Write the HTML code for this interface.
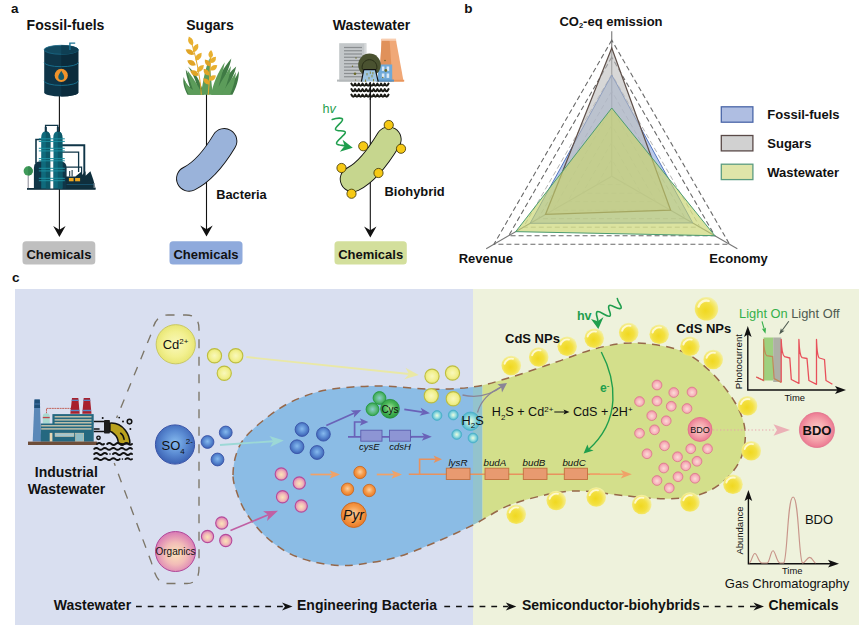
<!DOCTYPE html>
<html><head><meta charset="utf-8"><title>Figure</title>
<style>
html,body{margin:0;padding:0;background:#fff;}
body{width:865px;height:628px;overflow:hidden;font-family:"Liberation Sans",sans-serif;}
svg{display:block;font-family:"Liberation Sans",sans-serif;}
</style></head><body>
<svg width="865" height="628" viewBox="0 0 865 628">
<defs>
<radialGradient id="gYellow" cx="50%" cy="50%" r="50%"><stop offset="0" stop-color="#f9f8bc"/><stop offset="0.65" stop-color="#f2f090"/><stop offset="1" stop-color="#e8e674"/></radialGradient>
<radialGradient id="gBlue" cx="50%" cy="45%" r="55%"><stop offset="0" stop-color="#86baee"/><stop offset="0.55" stop-color="#5a8ad2"/><stop offset="1" stop-color="#3a60b2"/></radialGradient>
<radialGradient id="gPink" cx="50%" cy="55%" r="55%"><stop offset="0" stop-color="#fbe4b8"/><stop offset="0.5" stop-color="#f2bcb8"/><stop offset="1" stop-color="#d878b4"/></radialGradient>
<radialGradient id="gGreen" cx="50%" cy="45%" r="55%"><stop offset="0" stop-color="#a2e49a"/><stop offset="0.55" stop-color="#48b456"/><stop offset="1" stop-color="#2a9a40"/></radialGradient>
<radialGradient id="gCyan" cx="50%" cy="50%" r="50%"><stop offset="0" stop-color="#eefadc"/><stop offset="0.5" stop-color="#9ce0e0"/><stop offset="1" stop-color="#4ab2cc"/></radialGradient>
<radialGradient id="gOrange" cx="50%" cy="45%" r="55%"><stop offset="0" stop-color="#fcd0a0"/><stop offset="0.55" stop-color="#f59a48"/><stop offset="1" stop-color="#ea7a26"/></radialGradient>
<radialGradient id="gGold" cx="46%" cy="58%" r="56%"><stop offset="0" stop-color="#f0d820"/><stop offset="0.55" stop-color="#f3e040"/><stop offset="0.85" stop-color="#f4ea7c"/><stop offset="1" stop-color="#f3efa2"/></radialGradient>
<radialGradient id="gBDO" cx="50%" cy="50%" r="50%"><stop offset="0" stop-color="#fbcfca"/><stop offset="0.6" stop-color="#f4a2aa"/><stop offset="1" stop-color="#ec7a92"/></radialGradient>
<radialGradient id="gPinkS" cx="50%" cy="55%" r="50%"><stop offset="0" stop-color="#fcdcd8"/><stop offset="0.65" stop-color="#f7b4bc"/><stop offset="1" stop-color="#f096a8"/></radialGradient>
<radialGradient id="gGreenS" cx="50%" cy="50%" r="52%"><stop offset="0" stop-color="#8accd0"/><stop offset="0.55" stop-color="#5fbc80"/><stop offset="1" stop-color="#2fa448"/></radialGradient>
</defs>
<text x="11" y="12.5" font-size="13.5" font-weight="bold" fill="#111" text-anchor="start" style="" >a</text>
<text x="65.5" y="29.5" font-size="14" font-weight="bold" fill="#111" text-anchor="middle" style="" >Fossil-fuels</text>
<text x="210" y="29.5" font-size="14" font-weight="bold" fill="#111" text-anchor="middle" style="" >Sugars</text>
<text x="371.5" y="29.5" font-size="14" font-weight="bold" fill="#111" text-anchor="middle" style="" >Wastewater</text>
<line x1="59.4" y1="96" x2="59.4" y2="233" stroke="#111" stroke-width="1.1"/>
<path d="M59.4,237 L53.199999999999996,226 L59.4,229.8 L65.6,226 Z" fill="#111"/>
<line x1="206.5" y1="94" x2="206.5" y2="232.5" stroke="#111" stroke-width="1.1"/>
<path d="M206.5,236.5 L200.3,225.5 L206.5,229.3 L212.7,225.5 Z" fill="#111"/>
<line x1="370.3" y1="84" x2="370.3" y2="233.5" stroke="#111" stroke-width="1.1"/>
<path d="M370.3,237.5 L364.1,226.5 L370.3,230.3 L376.5,226.5 Z" fill="#111"/>
<rect x="22.5" y="241.2" width="72.8" height="23.3" rx="3.5" fill="#bfbfbf"/>
<text x="58.9" y="259" font-size="13" font-weight="bold" fill="#111" text-anchor="middle" style="" >Chemicals</text>
<rect x="169.5" y="241.2" width="73.0" height="23.3" rx="3.5" fill="#8faadc"/>
<text x="206.0" y="259" font-size="13" font-weight="bold" fill="#111" text-anchor="middle" style="" >Chemicals</text>
<rect x="334.5" y="241.2" width="72.30000000000001" height="23.3" rx="3.5" fill="#d3df9c"/>
<text x="370.65" y="259" font-size="13" font-weight="bold" fill="#111" text-anchor="middle" style="" >Chemicals</text>
<path d="M189.1,178.7 C202.3,172.1 215.3,156.1 224.3,141.1" fill="none" stroke="#111" stroke-width="26" stroke-linecap="round"/>
<path d="M189.1,178.7 C202.3,172.1 215.3,156.1 224.3,141.1" fill="none" stroke="#9ab3da" stroke-width="24.2" stroke-linecap="round"/>
<text x="216.2" y="198.5" font-size="12.8" font-weight="bold" fill="#111" text-anchor="start" style="" >Bacteria</text>
<path d="M352.8,179.2 C366.0,172.6 379.6,154.5 388.6,139.5" fill="none" stroke="#111" stroke-width="26" stroke-linecap="round"/>
<path d="M352.8,179.2 C366.0,172.6 379.6,154.5 388.6,139.5" fill="none" stroke="#c6d68e" stroke-width="24.2" stroke-linecap="round"/>
<circle cx="388.75" cy="125" r="4.6" fill="#f6c915" stroke="#3a3000" stroke-width="0.8"/>
<circle cx="363.25" cy="146.25" r="4.6" fill="#f6c915" stroke="#3a3000" stroke-width="0.8"/>
<circle cx="401" cy="148.75" r="4.6" fill="#f6c915" stroke="#3a3000" stroke-width="0.8"/>
<circle cx="341.5" cy="168" r="4.6" fill="#f6c915" stroke="#3a3000" stroke-width="0.8"/>
<circle cx="378.5" cy="173" r="4.6" fill="#f6c915" stroke="#3a3000" stroke-width="0.8"/>
<circle cx="351.5" cy="193.75" r="4.6" fill="#f6c915" stroke="#3a3000" stroke-width="0.8"/>
<text x="384.5" y="195.8" font-size="12.9" font-weight="bold" fill="#111" text-anchor="start" style="" >Biohybrid</text>
<text x="322.6" y="112.5" font-size="12.6" fill="#1f9e4d">h<tspan font-style="italic">v</tspan></text>
<path d="M332.2,119.5 C336,118.2 343.6,117 342.4,120.2 C341,123.6 334.4,127.2 335.6,129.6 C336.8,131.8 346.2,129.6 345.3,132.8 C344.2,136 335.4,141.2 336.6,143.6 C337.6,145.4 342,145.2 345,145.8" fill="none" stroke="#1f9e4d" stroke-width="1.6" stroke-linecap="round"/>
<path d="M352.8,147.7 L342.6,139.7 L344.6,146 L339.8,151.7 Z" fill="#1f9e4d"/>
<g>
<path d="M44.2,49.8 L44.2,92.2 A17.05,4.4 0 0 0 78.3,92.2 L78.3,49.8 Z" fill="#0e3548"/>
<path d="M61.25,49.8 L61.25,96.6 A17.05,4.4 0 0 0 78.3,92.2 L78.3,49.8 Z" fill="#0b2b3c"/>
<ellipse cx="61.25" cy="49.8" rx="17.05" ry="4.5" fill="#134a60" stroke="#1a6a88" stroke-width="0.8"/>
<path d="M61.25,45.3 A17.05,4.5 0 0 1 61.25,54.3 Z" fill="#0f3f54"/>
<path d="M44.2,62.4 A17.05,4.3 0 0 0 78.3,62.4" fill="none" stroke="#186e8c" stroke-width="1"/>
<path d="M44.2,80.8 A17.05,4.6 0 0 0 78.3,80.8" fill="none" stroke="#186e8c" stroke-width="1"/>
<circle cx="61.25" cy="75.4" r="6.6" fill="#f0932b"/>
<path d="M61.25,70.8 C62.6,73.4 64.2,75 64.2,77 A2.95,2.95 0 0 1 58.3,77 C58.3,75 59.9,73.4 61.25,70.8 Z" fill="#135a6c"/>
<path d="M69.9,50 L69.9,43.1 L75.2,43.1" fill="none" stroke="#1c7494" stroke-width="1.4"/>
</g>
<g>
<rect x="27" y="188" width="68.6" height="1.8" fill="#0f2f3d"/>
<line x1="28.2" y1="174" x2="28.2" y2="188.5" stroke="#556" stroke-width="0.7"/>
<circle cx="28.2" cy="170.9" r="4.6" fill="#3f9a5a"/><path d="M28.2,166.3 A4.6,4.6 0 0 1 28.2,175.5 Z" fill="#348a50"/>
<path d="M45.6,133 L45.6,125.4 L57.8,125.4 L57.8,133" fill="none" stroke="#0f3547" stroke-width="1.4"/>
<path d="M42,139.5 L36,139.5 L36,163" fill="none" stroke="#0f3547" stroke-width="1.6"/>
<path d="M62,145.2 L84.3,145.2 L84.3,178" fill="none" stroke="#0f3547" stroke-width="1.9"/>
<path d="M62,152.2 L78.6,152.2 L78.6,172" fill="none" stroke="#0f3547" stroke-width="1.3"/>
<path d="M66,167.2 L81.6,167.2 L81.6,176" fill="none" stroke="#0f3547" stroke-width="1.2"/>
<path d="M33.9,188.5 L33.9,168 Q33.9,161.2 40.5,161.2 L60,161.2 Q66.6,161.2 66.6,168 L66.6,188.5 Z" fill="#0f3547"/>
<path d="M41.2,188.5 L41.2,137.5 Q41.2,131.6 45.8,131.2 Q50.4,131.6 50.4,137.5 L50.4,188.5 Z" fill="#0f6a7c"/>
<path d="M45.8,188.5 L45.8,131.2 Q50.4,131.6 50.4,137.5 L50.4,188.5 Z" fill="#0c5868"/>
<rect x="44.8" y="127" width="2" height="5" fill="#0f3547"/>
<path d="M53.3,188.5 L53.3,137.5 Q53.3,131.6 57.849999999999994,131.2 Q62.4,131.6 62.4,137.5 L62.4,188.5 Z" fill="#0f6a7c"/>
<path d="M57.849999999999994,188.5 L57.849999999999994,131.2 Q62.4,131.6 62.4,137.5 L62.4,188.5 Z" fill="#0c5868"/>
<rect x="56.849999999999994" y="127" width="2" height="5" fill="#0f3547"/>
<rect x="50.4" y="148" width="2.9" height="40.5" fill="#fff"/>
<rect x="38.8" y="138.3" width="26" height="1" fill="#1d8fa0"/>
<rect x="38.8" y="140.9" width="26" height="1" fill="#1d8fa0"/>
<rect x="38.8" y="147.8" width="26" height="1" fill="#1d8fa0"/>
<rect x="38.8" y="150.4" width="26" height="1" fill="#1d8fa0"/>
<rect x="38.8" y="158.1" width="26" height="1" fill="#1d8fa0"/>
<rect x="38.8" y="160.3" width="26" height="1" fill="#1d8fa0"/>
<rect x="38.8" y="167.8" width="26" height="1" fill="#1d8fa0"/>
<rect x="38.8" y="170.4" width="26" height="1" fill="#1d8fa0"/>
<rect x="38.8" y="177.8" width="26" height="1" fill="#1d8fa0"/>
<rect x="38.8" y="180.2" width="26" height="1" fill="#1d8fa0"/>
<path d="M66,188.5 L66,176.5 L75.4,176.5 L81.3,171.8 L81.3,175.8 L85.6,171.3 L85.6,175.8 L90.4,171.3 L93.4,180 L95.6,188.5 Z" fill="#0f2f3d"/>
<rect x="69.2" y="171" width="1" height="5.5" fill="#0f2f3d"/><rect x="71.6" y="170" width="1" height="6.5" fill="#0f2f3d"/>
<rect x="68.9" y="178" width="4.7" height="3.3" fill="#f0a820"/><rect x="75.1" y="178" width="5" height="3.3" fill="#f0a820"/>
<rect x="66.6" y="184" width="27" height="1" fill="#17506a"/>
<rect x="93.6" y="183" width="1.2" height="5" fill="#8a96a0"/>
</g>
<g>
<path d="M187.5,94.8 C184,88 182.5,82 183.7,77 C185,82 187,85 190,87.5 C188,80 186,75 185.8,69.4 C189,76 193,81 197,86 C195,78 191,71 188,66.6 C195,72 201,82 204,94.8 Z" fill="#3f7a44"/>
<path d="M232.4,94.8 C236,88 239,80 238.9,71 C236,78 232,83 228,87 C231,80 235,73 236.2,66.6 C231,71 226,77 222,84 C226,75 230,66 231.3,58.5 C225,66 217,78 212,94.8 Z" fill="#3f7a44"/>
<path d="M189,94.8 C186,90 184.5,85 184.6,80 C187,85 190,88 193,90 C190.5,83 188,76 187.5,70.5 C193,78 199,86 202,94.8 Z" fill="#5c9c5a"/>
<path d="M201,94.8 C203,80 206,66 209.6,58 C210.5,70 211,82 213,94.8 Z" fill="#5c9c5a"/>
<path d="M211,94.8 C213,84 218,72 224.8,62.3 C223,72 220,80 218.5,87 C222,80 227,72 231,66 C230,76 226,86 223,94.8 Z" fill="#5c9c5a"/>
<path d="M221,94.8 C225,88 231,80 236,72 C235.5,80 233,88 230,94.8 Z" fill="#5c9c5a"/>
<path d="M201.3,94.8 C200.5,78 196,56 190.4,39" fill="none" stroke="#e2a92c" stroke-width="1"/>
<path d="M208.2,94.8 C209.5,80 210.5,66 210.7,52" fill="none" stroke="#e2a92c" stroke-width="1"/>
<path d="M-4.9399999999999995,0 Q-0.494,-4.959 4.9399999999999995,0 Q-0.494,4.959 -4.9399999999999995,0Z" transform="translate(190.7 41.2) rotate(-112)" fill="#e8b030"/>
<path d="M-4.9399999999999995,0 Q-0.494,-4.959 4.9399999999999995,0 Q-0.494,4.959 -4.9399999999999995,0Z" transform="translate(195.6 48) rotate(-60)" fill="#e8b030"/>
<path d="M-4.9399999999999995,0 Q-0.494,-4.959 4.9399999999999995,0 Q-0.494,4.959 -4.9399999999999995,0Z" transform="translate(198.6 56.7) rotate(-52)" fill="#e8b030"/>
<path d="M-4.9399999999999995,0 Q-0.494,-4.959 4.9399999999999995,0 Q-0.494,4.959 -4.9399999999999995,0Z" transform="translate(200.4 68.6) rotate(-45)" fill="#e8b030"/>
<path d="M-4.9399999999999995,0 Q-0.494,-4.959 4.9399999999999995,0 Q-0.494,4.959 -4.9399999999999995,0Z" transform="translate(189.9 52) rotate(-150)" fill="#e0a426"/>
<path d="M-4.9399999999999995,0 Q-0.494,-4.959 4.9399999999999995,0 Q-0.494,4.959 -4.9399999999999995,0Z" transform="translate(191.5 62.9) rotate(-150)" fill="#e0a426"/>
<path d="M-4.9399999999999995,0 Q-0.494,-4.959 4.9399999999999995,0 Q-0.494,4.959 -4.9399999999999995,0Z" transform="translate(194.5 73.1) rotate(-150)" fill="#e0a426"/>
<path d="M-4.29,0 Q-0.42900000000000005,-4.6834999999999996 4.29,0 Q-0.42900000000000005,4.6834999999999996 -4.29,0Z" transform="translate(210.7 54.2) rotate(-85)" fill="#e8b030"/>
<path d="M-4.29,0 Q-0.42900000000000005,-4.6834999999999996 4.29,0 Q-0.42900000000000005,4.6834999999999996 -4.29,0Z" transform="translate(213.1 59.9) rotate(-48)" fill="#e8b030"/>
<path d="M-4.29,0 Q-0.42900000000000005,-4.6834999999999996 4.29,0 Q-0.42900000000000005,4.6834999999999996 -4.29,0Z" transform="translate(213.8 67.7) rotate(-35)" fill="#e8b030"/>
<path d="M-4.29,0 Q-0.42900000000000005,-4.6834999999999996 4.29,0 Q-0.42900000000000005,4.6834999999999996 -4.29,0Z" transform="translate(212.4 78) rotate(-35)" fill="#e8b030"/>
<path d="M-4.29,0 Q-0.42900000000000005,-4.6834999999999996 4.29,0 Q-0.42900000000000005,4.6834999999999996 -4.29,0Z" transform="translate(207.5 62.9) rotate(-128)" fill="#e0a426"/>
<path d="M-4.29,0 Q-0.42900000000000005,-4.6834999999999996 4.29,0 Q-0.42900000000000005,4.6834999999999996 -4.29,0Z" transform="translate(206.4 72.1) rotate(-130)" fill="#e0a426"/>
<path d="M-4.29,0 Q-0.42900000000000005,-4.6834999999999996 4.29,0 Q-0.42900000000000005,4.6834999999999996 -4.29,0Z" transform="translate(206.4 81.3) rotate(-135)" fill="#e0a426"/>
</g>
<g>
<rect x="339.2" y="43.2" width="27.1" height="38.4" fill="#c3c7c9"/>
<rect x="364.3" y="43.2" width="2" height="38.4" fill="#d6d9da"/>
<rect x="337" y="79.6" width="30" height="2" fill="#b4b8ba"/>
<rect x="344" y="46.90" width="18" height="1.2" fill="#8a8e90"/>
<rect x="344" y="50.15" width="18" height="1.2" fill="#8a8e90"/>
<rect x="344" y="53.40" width="18" height="1.2" fill="#8a8e90"/>
<rect x="344" y="56.65" width="18" height="1.2" fill="#8a8e90"/>
<rect x="344" y="59.90" width="18" height="1.2" fill="#8a8e90"/>
<rect x="344" y="63.15" width="18" height="1.2" fill="#8a8e90"/>
<rect x="344" y="66.40" width="18" height="1.2" fill="#8a8e90"/>
<rect x="344" y="69.65" width="18" height="1.2" fill="#8a8e90"/>
<rect x="344" y="72.90" width="18" height="1.2" fill="#8a8e90"/>
<rect x="344" y="76.15" width="18" height="1.2" fill="#8a8e90"/>
<path d="M381.7,38.9 L395.8,38.9 L403.6,81.6 L379.2,81.6 Z" fill="#f0a877"/>
<path d="M381.7,38.9 L389.5,38.9 L392.5,81.6 L379.2,81.6 Z" fill="#e0915a"/>
<rect x="381.4" y="38.6" width="14.7" height="2.2" fill="#f8cdb0"/>
<rect x="378.6" y="79.8" width="25.6" height="1.8" fill="#e8955c"/>
<rect x="378" y="64.5" width="14.2" height="17.1" fill="#6fa9d8"/>
<rect x="376" y="79.6" width="18" height="2" fill="#5a94c4"/>
<rect x="381.8" y="66.5" width="2.6" height="4.4" fill="#dbe9f6"/>
<rect x="386.6" y="66.5" width="2.6" height="4.4" fill="#dbe9f6"/>
<rect x="381.8" y="73.5" width="2.6" height="4.4" fill="#dbe9f6"/>
<rect x="386.6" y="73.5" width="2.6" height="4.4" fill="#dbe9f6"/>
<circle cx="369.5" cy="64.9" r="11.3" fill="#4a5230"/>
<path d="M362.5,69.5 A7.4,7.4 0 1 1 376.5,69.5" fill="none" stroke="#2a2f18" stroke-width="1"/>
<path d="M363.8,69.7 L375.4,69.7 L378,81.6 L361.6,81.6 Z" fill="#9ec4e0"/>
<path d="M363.8,69.5 L361.4,81.6 M375.4,69.5 L378.2,81.6 M363.4,69.7 L375.8,69.7" fill="none" stroke="#111" stroke-width="1.2"/>
<rect x="366.5" y="73" width="1" height="2.4" fill="#8a8a40"/>
<rect x="368.5" y="77" width="1" height="2.4" fill="#8a8a40"/>
<rect x="371.5" y="75" width="1" height="2.4" fill="#8a8a40"/>
<rect x="373" y="79" width="1" height="2.4" fill="#8a8a40"/>
<rect x="369.8" y="71.5" width="1" height="2.4" fill="#8a8a40"/>
<rect x="365" y="79.5" width="1" height="2.4" fill="#8a8a40"/>
<rect x="372.4" y="72" width="1" height="2.4" fill="#8a8a40"/>
<circle cx="356" cy="58" r="0.7" fill="#6a6a28"/>
<circle cx="352.5" cy="66.3" r="0.7" fill="#6a6a28"/>
<circle cx="355" cy="73.8" r="1.3" fill="#6a6a28"/>
<circle cx="355.6" cy="80" r="0.6" fill="#6a6a28"/>
<circle cx="385" cy="60.5" r="0.8" fill="#6a6a28"/>
<circle cx="385.8" cy="70.5" r="1.4" fill="#6a6a28"/>
<circle cx="382.8" cy="77.5" r="0.7" fill="#6a6a28"/>
<path d="M351.4,83.60000000000001 Q353.25,87.76 355.11,83.60 Q356.96,87.76 358.82,83.60 Q360.67,87.76 362.53,83.60 Q364.38,87.76 366.24,83.60 Q368.09,87.76 369.95,83.60 Q371.80,87.76 373.66,83.60 Q375.51,87.76 377.37,83.60 Q379.22,87.76 381.08,83.60 Q382.93,87.76 384.79,83.60 Q386.64,87.76 388.50,83.60" fill="none" stroke="#1a1a14" stroke-width="2.1" stroke-linecap="round" stroke-linejoin="round"/>
<path d="M351.4,89.10000000000001 Q353.25,93.26 355.11,89.10 Q356.96,93.26 358.82,89.10 Q360.67,93.26 362.53,89.10 Q364.38,93.26 366.24,89.10 Q368.09,93.26 369.95,89.10 Q371.80,93.26 373.66,89.10 Q375.51,93.26 377.37,89.10 Q379.22,93.26 381.08,89.10 Q382.93,93.26 384.79,89.10 Q386.64,93.26 388.50,89.10" fill="none" stroke="#1a1a14" stroke-width="2.1" stroke-linecap="round" stroke-linejoin="round"/>
<path d="M351.4,94.60000000000001 Q353.25,98.76 355.11,94.60 Q356.96,98.76 358.82,94.60 Q360.67,98.76 362.53,94.60 Q364.38,98.76 366.24,94.60 Q368.09,98.76 369.95,94.60 Q371.80,98.76 373.66,94.60 Q375.51,98.76 377.37,94.60 Q379.22,98.76 381.08,94.60 Q382.93,98.76 384.79,94.60 Q386.64,98.76 388.50,94.60" fill="none" stroke="#1a1a14" stroke-width="2.1" stroke-linecap="round" stroke-linejoin="round"/>
<line x1="370.3" y1="82" x2="370.3" y2="100" stroke="#111" stroke-width="1.1"/>
</g>
<text x="464.2" y="13" font-size="13.5" font-weight="bold" fill="#111" text-anchor="start" style="" >b</text>
<line x1="611.75" y1="176.2" x2="611.75" y2="31.20" stroke="#777" stroke-width="1.1"/>
<line x1="611.75" y1="176.2" x2="486.18" y2="248.70" stroke="#777" stroke-width="1.1"/>
<line x1="611.75" y1="176.2" x2="737.32" y2="248.70" stroke="#777" stroke-width="1.1"/>
<polygon points="611.75,159.20 597.03,184.70 626.47,184.70" fill="none" stroke="#a2a2a2" stroke-width="0.8" stroke-dasharray="5,3"/>
<polygon points="611.75,142.20 582.31,193.20 641.19,193.20" fill="none" stroke="#a2a2a2" stroke-width="0.8" stroke-dasharray="5,3"/>
<polygon points="611.75,125.20 567.58,201.70 655.92,201.70" fill="none" stroke="#a2a2a2" stroke-width="0.8" stroke-dasharray="5,3"/>
<polygon points="611.75,108.20 552.86,210.20 670.64,210.20" fill="none" stroke="#a2a2a2" stroke-width="0.8" stroke-dasharray="5,3"/>
<polygon points="611.75,91.20 538.14,218.70 685.36,218.70" fill="none" stroke="#a2a2a2" stroke-width="0.8" stroke-dasharray="5,3"/>
<polygon points="611.75,74.20 523.42,227.20 700.08,227.20" fill="none" stroke="#a2a2a2" stroke-width="0.8" stroke-dasharray="5,3"/>
<polygon points="611.75,57.20 508.69,235.70 714.81,235.70" fill="none" stroke="#6a6a6a" stroke-width="1.1" stroke-dasharray="5,3"/>
<polygon points="611.75,40.20 493.97,244.20 729.53,244.20" fill="none" stroke="#6a6a6a" stroke-width="1.1" stroke-dasharray="5,3"/>
<polygon points="611.75,75.00 530.17,223.30 692.72,222.95" fill="#8faadc" fill-opacity="0.62" stroke="#4f74c0" stroke-width="1"/>
<polygon points="611.75,48.00 545.50,214.45 670.64,210.20" fill="#bdbdbd" fill-opacity="0.6" stroke="#5f504a" stroke-width="1.2"/>
<polygon points="611.75,108.00 515.71,231.65 714.81,235.70" fill="#c9d56e" fill-opacity="0.66" stroke="#4c9c72" stroke-width="1"/>
<text x="611" y="26.3" font-size="13" font-weight="bold" fill="#111" text-anchor="middle" style="" >CO<tspan font-size="7.5" dy="1.5">2</tspan><tspan dy="-1.5">-eq emission</tspan></text>
<text x="485.8" y="262.5" font-size="13" font-weight="bold" fill="#111" text-anchor="middle" style="" >Revenue</text>
<text x="738.6" y="262.5" font-size="13" font-weight="bold" fill="#111" text-anchor="middle" style="" >Economy</text>
<rect x="721.3" y="106.8" width="31.6" height="15.4" fill="#afbee2" stroke="#4a66a8" stroke-width="1.3"/>
<text x="767.3" y="119.3" font-size="13" font-weight="bold" fill="#111" text-anchor="start" style="" >Fossil-fuels</text>
<rect x="721.3" y="135.5" width="31.6" height="15.4" fill="#d1d1d1" stroke="#5a4a48" stroke-width="1.3"/>
<text x="767.3" y="148.0" font-size="13" font-weight="bold" fill="#111" text-anchor="start" style="" >Sugars</text>
<rect x="721.3" y="164.2" width="31.6" height="15.4" fill="#dfe5a9" stroke="#5c9c80" stroke-width="1.3"/>
<text x="767.3" y="176.7" font-size="13" font-weight="bold" fill="#111" text-anchor="start" style="" >Wastewater</text>
<text x="12.1" y="282" font-size="13.6" font-weight="bold" fill="#111" text-anchor="start" style="" >c</text>
<rect x="15" y="289" width="458" height="336" fill="#d9dff0"/>
<rect x="473" y="289" width="386" height="336" fill="#eef2dc"/>
<clipPath id="blobclip"><path d="M233.0,475.0 C233.0,469.2 234.0,461.2 236.0,455.0 C238.0,448.8 239.8,443.8 245.0,437.5 C250.2,431.2 259.5,423.3 267.0,417.5 C274.5,411.7 281.2,406.9 290.0,402.5 C298.8,398.1 309.6,393.8 320.0,391.2 C330.4,388.7 341.2,387.8 352.5,387.0 C363.8,386.2 374.6,385.8 387.5,386.2 C400.4,386.6 415.8,389.1 430.0,389.2 C444.2,389.3 459.7,388.9 473.0,387.0 C486.3,385.1 496.3,381.6 510.0,377.5 C523.7,373.4 540.7,367.3 555.0,362.5 C569.3,357.7 582.7,351.8 596.0,348.5 C609.3,345.2 621.0,342.7 635.0,343.0 C649.0,343.3 667.5,345.8 680.0,350.5 C692.5,355.2 700.8,362.6 710.0,371.2 C719.2,379.9 729.2,392.7 735.0,402.5 C740.8,412.3 744.0,420.8 745.0,430.0 C746.0,439.2 744.6,449.2 741.2,457.5 C737.9,465.8 731.9,473.8 725.0,480.0 C718.1,486.2 710.0,491.4 700.0,494.5 C690.0,497.6 677.9,498.6 665.0,498.8 C652.1,498.9 635.8,496.8 622.5,495.5 C609.2,494.2 596.2,491.7 585.0,491.2 C573.8,490.8 567.5,490.7 555.0,493.0 C542.5,495.3 523.7,499.7 510.0,505.0 C496.3,510.3 485.5,518.8 473.0,525.0 C460.5,531.2 447.6,537.2 435.0,542.5 C422.4,547.8 409.2,553.5 397.5,557.0 C385.8,560.5 374.6,562.1 365.0,563.5 C355.4,564.9 349.2,565.9 340.0,565.5 C330.8,565.1 319.2,563.4 310.0,561.0 C300.8,558.6 292.9,555.6 285.0,551.0 C277.1,546.4 269.2,540.2 262.5,533.5 C255.8,526.8 249.4,518.2 245.0,511.0 C240.6,503.8 238.0,496.0 236.0,490.0 C234.0,484.0 233.0,480.8 233.0,475.0Z"/></clipPath>
<g clip-path="url(#blobclip)">
<rect x="220" y="330" width="253" height="250" fill="#8bbce5"/>
<rect x="473" y="330" width="9.6" height="250" fill="#93c3cd"/>
<rect x="482.6" y="330" width="280" height="250" fill="#d3df8b"/>
</g>
<path d="M233.0,475.0 C233.0,469.2 234.0,461.2 236.0,455.0 C238.0,448.8 239.8,443.8 245.0,437.5 C250.2,431.2 259.5,423.3 267.0,417.5 C274.5,411.7 281.2,406.9 290.0,402.5 C298.8,398.1 309.6,393.8 320.0,391.2 C330.4,388.7 341.2,387.8 352.5,387.0 C363.8,386.2 374.6,385.8 387.5,386.2 C400.4,386.6 415.8,389.1 430.0,389.2 C444.2,389.3 459.7,388.9 473.0,387.0 C486.3,385.1 496.3,381.6 510.0,377.5 C523.7,373.4 540.7,367.3 555.0,362.5 C569.3,357.7 582.7,351.8 596.0,348.5 C609.3,345.2 621.0,342.7 635.0,343.0 C649.0,343.3 667.5,345.8 680.0,350.5 C692.5,355.2 700.8,362.6 710.0,371.2 C719.2,379.9 729.2,392.7 735.0,402.5 C740.8,412.3 744.0,420.8 745.0,430.0 C746.0,439.2 744.6,449.2 741.2,457.5 C737.9,465.8 731.9,473.8 725.0,480.0 C718.1,486.2 710.0,491.4 700.0,494.5 C690.0,497.6 677.9,498.6 665.0,498.8 C652.1,498.9 635.8,496.8 622.5,495.5 C609.2,494.2 596.2,491.7 585.0,491.2 C573.8,490.8 567.5,490.7 555.0,493.0 C542.5,495.3 523.7,499.7 510.0,505.0 C496.3,510.3 485.5,518.8 473.0,525.0 C460.5,531.2 447.6,537.2 435.0,542.5 C422.4,547.8 409.2,553.5 397.5,557.0 C385.8,560.5 374.6,562.1 365.0,563.5 C355.4,564.9 349.2,565.9 340.0,565.5 C330.8,565.1 319.2,563.4 310.0,561.0 C300.8,558.6 292.9,555.6 285.0,551.0 C277.1,546.4 269.2,540.2 262.5,533.5 C255.8,526.8 249.4,518.2 245.0,511.0 C240.6,503.8 238.0,496.0 236.0,490.0 C234.0,484.0 233.0,480.8 233.0,475.0Z" fill="none" stroke="#96684a" stroke-width="1.5" stroke-dasharray="8,6.2"/>
<path d="M116.6,418 L152.3,331 C154,322 158.5,315 168,315 L186,315 Q199,315 199,329 L199,568 Q199,583.5 187,583.5 L166,583.5 C158,583.5 154.6,574 151.4,562.4 L114.2,463" fill="none" stroke="#7c7668" stroke-width="1.35" stroke-dasharray="9,8.5" stroke-dashoffset="6.4"/>
<circle cx="175.75" cy="344.25" r="19.6" fill="url(#gYellow)" stroke="#c9c862" stroke-width="1"/>
<text x="175.5" y="348.8" font-size="13" fill="#111" text-anchor="middle">Cd<tspan font-size="8" dy="-4.5">2+</tspan></text>
<circle cx="175" cy="444.5" r="19.6" fill="url(#gBlue)" stroke="#3a54a8" stroke-width="1"/>
<text x="161.5" y="449.5" font-size="13" fill="#111">SO<tspan font-size="8" dy="4">4</tspan><tspan font-size="8" dy="-10" dx="1">2-</tspan></text>
<circle cx="175.5" cy="551.5" r="20" fill="url(#gPink)" stroke="#b0489a" stroke-width="1"/>
<text x="175.5" y="554.8" font-size="10" fill="#111" text-anchor="middle">Organics</text>
<circle cx="214.5" cy="355.75" r="7.1" fill="url(#gYellow)" stroke="#bdbd3e" stroke-width="1.1"/>
<circle cx="235.75" cy="355.75" r="7.1" fill="url(#gYellow)" stroke="#bdbd3e" stroke-width="1.1"/>
<circle cx="224.25" cy="373.25" r="7.1" fill="url(#gYellow)" stroke="#bdbd3e" stroke-width="1.1"/>
<circle cx="432" cy="376.25" r="7.1" fill="url(#gYellow)" stroke="#bdbd3e" stroke-width="1.1"/>
<circle cx="452.5" cy="373" r="7.1" fill="url(#gYellow)" stroke="#bdbd3e" stroke-width="1.1"/>
<circle cx="431.25" cy="395.75" r="7.1" fill="url(#gYellow)" stroke="#bdbd3e" stroke-width="1.1"/>
<circle cx="453.25" cy="398.75" r="7.1" fill="url(#gYellow)" stroke="#bdbd3e" stroke-width="1.1"/>
<circle cx="225.75" cy="432.5" r="6.4" fill="url(#gBlue)" stroke="#3a54a8" stroke-width="0.9"/>
<circle cx="207.5" cy="442" r="6.4" fill="url(#gBlue)" stroke="#3a54a8" stroke-width="0.9"/>
<circle cx="217.5" cy="459.5" r="6.4" fill="url(#gBlue)" stroke="#3a54a8" stroke-width="0.9"/>
<circle cx="302" cy="429.5" r="6.9" fill="url(#gBlue)" stroke="#3a54a8" stroke-width="0.9"/>
<circle cx="323.4" cy="434.2" r="6.9" fill="url(#gBlue)" stroke="#3a54a8" stroke-width="0.9"/>
<circle cx="297" cy="446.75" r="6.9" fill="url(#gBlue)" stroke="#3a54a8" stroke-width="0.9"/>
<circle cx="317" cy="452.5" r="6.9" fill="url(#gBlue)" stroke="#3a54a8" stroke-width="0.9"/>
<circle cx="221.75" cy="523" r="6.1" fill="url(#gPink)" stroke="#b64a9a" stroke-width="1.1"/>
<circle cx="207.5" cy="536.5" r="6.1" fill="url(#gPink)" stroke="#b64a9a" stroke-width="1.1"/>
<circle cx="225.75" cy="540.5" r="6.1" fill="url(#gPink)" stroke="#b64a9a" stroke-width="1.1"/>
<circle cx="281.25" cy="474" r="6.1" fill="url(#gPink)" stroke="#b64a9a" stroke-width="1.1"/>
<circle cx="299.25" cy="483" r="6.1" fill="url(#gPink)" stroke="#b64a9a" stroke-width="1.1"/>
<circle cx="282.5" cy="496.75" r="6.1" fill="url(#gPink)" stroke="#b64a9a" stroke-width="1.1"/>
<circle cx="301.25" cy="506" r="6.1" fill="url(#gPink)" stroke="#b64a9a" stroke-width="1.1"/>
<circle cx="360" cy="472.5" r="6.2" fill="url(#gOrange)" stroke="#c8641c" stroke-width="0.8"/>
<circle cx="347.5" cy="489.25" r="6.2" fill="url(#gOrange)" stroke="#c8641c" stroke-width="0.8"/>
<circle cx="369.25" cy="490.5" r="6.2" fill="url(#gOrange)" stroke="#c8641c" stroke-width="0.8"/>
<circle cx="353.75" cy="515" r="12.5" fill="url(#gOrange)" stroke="#c8641c" stroke-width="0.9"/>
<text x="353.5" y="520" font-size="14" font-weight="normal" fill="#111" text-anchor="middle" style="font-style:italic;" >Pyr</text>
<circle cx="379.5" cy="398" r="6.4" fill="url(#gGreenS)" stroke="#2a9a44" stroke-width="1"/>
<circle cx="372.5" cy="409.25" r="6.4" fill="url(#gGreenS)" stroke="#2a9a44" stroke-width="1"/>
<circle cx="390" cy="408.75" r="9.4" fill="url(#gGreen)" stroke="#2a9040" stroke-width="0.8"/>
<text x="390" y="412.5" font-size="10" font-weight="normal" fill="#111" text-anchor="middle" style="" >Cys</text>
<circle cx="437" cy="415.5" r="4.9" fill="url(#gCyan)" stroke="#48b0c8" stroke-width="0.8"/>
<circle cx="453.25" cy="415" r="4.9" fill="url(#gCyan)" stroke="#48b0c8" stroke-width="0.8"/>
<circle cx="456.75" cy="434.5" r="4.9" fill="url(#gCyan)" stroke="#48b0c8" stroke-width="0.8"/>
<circle cx="473" cy="438" r="4.9" fill="url(#gCyan)" stroke="#48b0c8" stroke-width="0.8"/>
<circle cx="470.5" cy="421.25" r="9.2" fill="url(#gCyan)" stroke="#48b0c8" stroke-width="0.8"/>
<line x1="246.3" y1="357" x2="409.05" y2="373.98" stroke="#e9e8a6" stroke-width="1.8"/>
<path d="M418.80,375.00 L404.27,379.32 L409.05,373.98 L405.48,367.78 Z" fill="#e9e8a6"/>
<line x1="220" y1="445" x2="273.33" y2="441.24" stroke="#9cd8d6" stroke-width="1.8"/>
<path d="M283.80,440.50 L270.23,447.07 L273.33,441.24 L269.44,435.90 Z" fill="#9cd8d6"/>
<line x1="230.5" y1="530.5" x2="268.30" y2="514.82" stroke="#c060a4" stroke-width="1.7"/>
<path d="M278.00,510.80 L267.06,520.97 L268.30,514.82 L263.08,511.36 Z" fill="#c060a4"/>
<line x1="326.3" y1="425.5" x2="354.44" y2="413.04" stroke="#6a62b8" stroke-width="1.8"/>
<path d="M361.30,410.00 L353.78,417.71 L354.44,413.04 L350.54,410.39 Z" fill="#6a62b8"/>
<line x1="404.3" y1="409.3" x2="422.59" y2="412.15" stroke="#6a62b8" stroke-width="1.8"/>
<path d="M430.00,413.30 L419.50,415.71 L422.59,412.15 L420.73,407.81 Z" fill="#6a62b8"/>
<line x1="348" y1="436.8" x2="412" y2="436.8" stroke="#6a62b8" stroke-width="1.7"/>
<line x1="410" y1="436.8" x2="424.30" y2="436.80" stroke="#6a62b8" stroke-width="1.8"/>
<path d="M431.80,436.80 L421.80,440.80 L424.30,436.80 L421.80,432.80 Z" fill="#6a62b8"/>
<path d="M354.6,436.8 L354.6,422 L362,422" fill="none" stroke="#6a62b8" stroke-width="1.7"/>
<path d="M368.4,422 L359.8,418.2 L361.8,422 L359.8,425.8 Z" fill="#6a62b8"/>
<rect x="360.8" y="430.2" width="21.19999999999999" height="11" fill="#8d95d4" stroke="#5c5cae" stroke-width="0.9"/>
<rect x="389.5" y="430.2" width="21.0" height="11" fill="#8d95d4" stroke="#5c5cae" stroke-width="0.9"/>
<text x="369.4" y="450" font-size="9.5" font-weight="normal" fill="#111" text-anchor="middle" style="font-style:italic;" >cysE</text>
<text x="400" y="450" font-size="9.5" font-weight="normal" fill="#111" text-anchor="middle" style="font-style:italic;" >cdsH</text>
<line x1="310.5" y1="474.5" x2="332.12" y2="474.50" stroke="#f0a268" stroke-width="1.7"/>
<path d="M340.00,474.50 L329.50,478.70 L332.12,474.50 L329.50,470.30 Z" fill="#f0a268"/>
<line x1="376.8" y1="474.5" x2="394.12" y2="474.50" stroke="#f0a268" stroke-width="1.7"/>
<path d="M402.00,474.50 L391.50,478.70 L394.12,474.50 L391.50,470.30 Z" fill="#f0a268"/>
<line x1="408.8" y1="474.3" x2="600" y2="474.3" stroke="#e8925e" stroke-width="1.6"/>
<line x1="590" y1="474.3" x2="623.55" y2="474.30" stroke="#f0a268" stroke-width="1.6"/>
<path d="M631.80,474.30 L620.80,478.50 L623.55,474.30 L620.80,470.10 Z" fill="#f0a268"/>
<path d="M419.6,474.3 L419.6,459.3 L436,459.3" fill="none" stroke="#e8925e" stroke-width="1.6"/>
<path d="M442,459.3 L433.6,455.5 L435.6,459.3 L433.6,463.1 Z" fill="#e8925e"/>
<rect x="446.3" y="468.2" width="23.69999999999999" height="11.3" fill="#e89a70" stroke="#c0703e" stroke-width="0.9"/>
<text x="457.95" y="465.5" font-size="9.8" font-weight="normal" fill="#111" text-anchor="middle" style="font-style:italic;" >lysR</text>
<rect x="485" y="468.2" width="23.80000000000001" height="11.3" fill="#e89a70" stroke="#c0703e" stroke-width="0.9"/>
<text x="494.9" y="465.5" font-size="9.8" font-weight="normal" fill="#111" text-anchor="middle" style="font-style:italic;" >budA</text>
<rect x="523.3" y="468.2" width="23.700000000000045" height="11.3" fill="#e89a70" stroke="#c0703e" stroke-width="0.9"/>
<text x="533.9499999999999" y="465.5" font-size="9.8" font-weight="normal" fill="#111" text-anchor="middle" style="font-style:italic;" >budB</text>
<rect x="564.3" y="468.2" width="23.200000000000045" height="11.3" fill="#e89a70" stroke="#c0703e" stroke-width="0.9"/>
<text x="574.1" y="465.5" font-size="9.8" font-weight="normal" fill="#111" text-anchor="middle" style="font-style:italic;" >budC</text>
<text x="461.6" y="424.6" font-size="12.7" fill="#111">H<tspan font-size="8" dy="3.5">2</tspan><tspan dy="-3.5">S</tspan></text>
<text x="491.8" y="416.3" font-size="12.6" fill="#111">H<tspan font-size="8" dy="3.5">2</tspan><tspan dy="-3.5">S + Cd</tspan><tspan font-size="8" dy="-4.5">2+</tspan></text>
<line x1="554.3" y1="412" x2="566" y2="412" stroke="#111" stroke-width="1"/><path d="M569.5,412 L563.5,409.4 L564.8,412 L563.5,414.6 Z" fill="#111"/>
<text x="573" y="416.3" font-size="12.6" fill="#111">CdS + 2H<tspan font-size="8" dy="-4.5">+</tspan></text>
<path d="M462.5,395 C478,398.5 492,394 502,386.5" fill="none" stroke="#8a8496" stroke-width="1.3"/>
<path d="M477.5,412.5 C481,400 490,392 502,386.5" fill="none" stroke="#8a8496" stroke-width="1.3"/>
<path d="M507,383 L497.5,384.2 L501.2,387.2 L502,392.5 Z" fill="#8a8496"/>
<circle cx="511.25" cy="365.5" r="9.8" fill="url(#gGold)"/>
<path d="M504.62,363.72 A6.86,6.86 0 0 1 513.03,358.87" fill="none" stroke="#fffbe0" stroke-opacity="0.85" stroke-width="1.96" stroke-linecap="round"/>
<circle cx="538.75" cy="357" r="9.8" fill="url(#gGold)"/>
<path d="M532.12,355.22 A6.86,6.86 0 0 1 540.53,350.37" fill="none" stroke="#fffbe0" stroke-opacity="0.85" stroke-width="1.96" stroke-linecap="round"/>
<circle cx="567.2" cy="346.25" r="9.8" fill="url(#gGold)"/>
<path d="M560.57,344.47 A6.86,6.86 0 0 1 568.98,339.62" fill="none" stroke="#fffbe0" stroke-opacity="0.85" stroke-width="1.96" stroke-linecap="round"/>
<circle cx="594.25" cy="338.25" r="9.8" fill="url(#gGold)"/>
<path d="M587.62,336.47 A6.86,6.86 0 0 1 596.03,331.62" fill="none" stroke="#fffbe0" stroke-opacity="0.85" stroke-width="1.96" stroke-linecap="round"/>
<circle cx="628.75" cy="332.5" r="9.8" fill="url(#gGold)"/>
<path d="M622.12,330.72 A6.86,6.86 0 0 1 630.53,325.87" fill="none" stroke="#fffbe0" stroke-opacity="0.85" stroke-width="1.96" stroke-linecap="round"/>
<circle cx="659.25" cy="334.25" r="9.8" fill="url(#gGold)"/>
<path d="M652.62,332.47 A6.86,6.86 0 0 1 661.03,327.62" fill="none" stroke="#fffbe0" stroke-opacity="0.85" stroke-width="1.96" stroke-linecap="round"/>
<circle cx="690" cy="346.25" r="9.8" fill="url(#gGold)"/>
<path d="M683.37,344.47 A6.86,6.86 0 0 1 691.78,339.62" fill="none" stroke="#fffbe0" stroke-opacity="0.85" stroke-width="1.96" stroke-linecap="round"/>
<circle cx="713.25" cy="359.5" r="9.8" fill="url(#gGold)"/>
<path d="M706.62,357.72 A6.86,6.86 0 0 1 715.03,352.87" fill="none" stroke="#fffbe0" stroke-opacity="0.85" stroke-width="1.96" stroke-linecap="round"/>
<circle cx="747.6" cy="405.8" r="9.8" fill="url(#gGold)"/>
<path d="M740.97,404.02 A6.86,6.86 0 0 1 749.38,399.17" fill="none" stroke="#fffbe0" stroke-opacity="0.85" stroke-width="1.96" stroke-linecap="round"/>
<circle cx="751.25" cy="450.75" r="9.8" fill="url(#gGold)"/>
<path d="M744.62,448.97 A6.86,6.86 0 0 1 753.03,444.12" fill="none" stroke="#fffbe0" stroke-opacity="0.85" stroke-width="1.96" stroke-linecap="round"/>
<circle cx="733" cy="484.3" r="9.8" fill="url(#gGold)"/>
<path d="M726.37,482.52 A6.86,6.86 0 0 1 734.78,477.67" fill="none" stroke="#fffbe0" stroke-opacity="0.85" stroke-width="1.96" stroke-linecap="round"/>
<circle cx="690" cy="502" r="9.8" fill="url(#gGold)"/>
<path d="M683.37,500.22 A6.86,6.86 0 0 1 691.78,495.37" fill="none" stroke="#fffbe0" stroke-opacity="0.85" stroke-width="1.96" stroke-linecap="round"/>
<circle cx="641.75" cy="504.5" r="9.8" fill="url(#gGold)"/>
<path d="M635.12,502.72 A6.86,6.86 0 0 1 643.53,497.87" fill="none" stroke="#fffbe0" stroke-opacity="0.85" stroke-width="1.96" stroke-linecap="round"/>
<circle cx="596.25" cy="497" r="9.8" fill="url(#gGold)"/>
<path d="M589.62,495.22 A6.86,6.86 0 0 1 598.03,490.37" fill="none" stroke="#fffbe0" stroke-opacity="0.85" stroke-width="1.96" stroke-linecap="round"/>
<circle cx="556.25" cy="500.5" r="9.8" fill="url(#gGold)"/>
<path d="M549.62,498.72 A6.86,6.86 0 0 1 558.03,493.87" fill="none" stroke="#fffbe0" stroke-opacity="0.85" stroke-width="1.96" stroke-linecap="round"/>
<circle cx="516.25" cy="514.25" r="9.8" fill="url(#gGold)"/>
<path d="M509.62,512.47 A6.86,6.86 0 0 1 518.03,507.62" fill="none" stroke="#fffbe0" stroke-opacity="0.85" stroke-width="1.96" stroke-linecap="round"/>
<circle cx="706.5" cy="308.8" r="11.8" fill="url(#gGold)"/>
<path d="M698.52,306.66 A8.26,8.26 0 0 1 708.64,300.82" fill="none" stroke="#fffbe0" stroke-opacity="0.85" stroke-width="2.36" stroke-linecap="round"/>
<text x="505" y="343" font-size="13" font-weight="bold" fill="#111" text-anchor="start" style="" >CdS NPs</text>
<text x="676.3" y="332.5" font-size="13" font-weight="bold" fill="#111" text-anchor="start" style="" >CdS NPs</text>
<text x="576.9" y="319.6" font-size="12.6" font-weight="bold" fill="#1f9e4d" text-anchor="start" style="" >hv</text>
<path d="M617.3,298.5 C618,303 623,306.8 620.8,308.4 C618,310.2 611,303.4 609,305.8 C607,308.4 612.2,314.4 609.9,316 C607,317.8 599,309.6 596.9,311.9 C595.4,313.8 597.4,317 597.9,321" fill="none" stroke="#1f9e4d" stroke-width="1.6" stroke-linecap="round"/>
<path d="M598.3,328.9 L591,319 L597.8,321.2 L603.5,316.9 Z" fill="#1f9e4d"/>
<path d="M601.3,352 C616,380 622,420 588,450" fill="none" stroke="#1f9e4d" stroke-width="1.4"/>
<path d="M583.6,453.6 L587.4,444.4 L589,449 L593.6,450.6 Z" fill="#1f9e4d"/>
<text x="600" y="392" font-size="12" font-weight="bold" fill="#1f9e4d">e<tspan font-size="8" dy="-4">-</tspan></text>
<circle cx="657" cy="385" r="4.9" fill="url(#gPinkS)" stroke="#d87088" stroke-width="0.7"/>
<circle cx="673.75" cy="392.5" r="4.9" fill="url(#gPinkS)" stroke="#d87088" stroke-width="0.7"/>
<circle cx="692" cy="392" r="4.9" fill="url(#gPinkS)" stroke="#d87088" stroke-width="0.7"/>
<circle cx="639.5" cy="401.5" r="4.9" fill="url(#gPinkS)" stroke="#d87088" stroke-width="0.7"/>
<circle cx="657" cy="401" r="4.9" fill="url(#gPinkS)" stroke="#d87088" stroke-width="0.7"/>
<circle cx="671.25" cy="406.25" r="4.9" fill="url(#gPinkS)" stroke="#d87088" stroke-width="0.7"/>
<circle cx="687" cy="408.5" r="4.9" fill="url(#gPinkS)" stroke="#d87088" stroke-width="0.7"/>
<circle cx="651.75" cy="415.6" r="4.9" fill="url(#gPinkS)" stroke="#d87088" stroke-width="0.7"/>
<circle cx="666.25" cy="420.75" r="4.9" fill="url(#gPinkS)" stroke="#d87088" stroke-width="0.7"/>
<circle cx="639.5" cy="433.25" r="4.9" fill="url(#gPinkS)" stroke="#d87088" stroke-width="0.7"/>
<circle cx="654.5" cy="429.8" r="4.9" fill="url(#gPinkS)" stroke="#d87088" stroke-width="0.7"/>
<circle cx="664.5" cy="445.75" r="4.9" fill="url(#gPinkS)" stroke="#d87088" stroke-width="0.7"/>
<circle cx="647" cy="453.75" r="4.9" fill="url(#gPinkS)" stroke="#d87088" stroke-width="0.7"/>
<circle cx="690.75" cy="448.75" r="4.9" fill="url(#gPinkS)" stroke="#d87088" stroke-width="0.7"/>
<circle cx="707.5" cy="448.75" r="4.9" fill="url(#gPinkS)" stroke="#d87088" stroke-width="0.7"/>
<circle cx="677.5" cy="456.75" r="4.9" fill="url(#gPinkS)" stroke="#d87088" stroke-width="0.7"/>
<circle cx="697" cy="461.25" r="4.9" fill="url(#gPinkS)" stroke="#d87088" stroke-width="0.7"/>
<circle cx="685.75" cy="465.75" r="4.9" fill="url(#gPinkS)" stroke="#d87088" stroke-width="0.7"/>
<circle cx="663.75" cy="468" r="4.9" fill="url(#gPinkS)" stroke="#d87088" stroke-width="0.7"/>
<circle cx="678" cy="476.75" r="4.9" fill="url(#gPinkS)" stroke="#d87088" stroke-width="0.7"/>
<circle cx="695" cy="478.25" r="4.9" fill="url(#gPinkS)" stroke="#d87088" stroke-width="0.7"/>
<circle cx="657" cy="480.5" r="4.9" fill="url(#gPinkS)" stroke="#d87088" stroke-width="0.7"/>
<circle cx="669.25" cy="488" r="4.9" fill="url(#gPinkS)" stroke="#d87088" stroke-width="0.7"/>
<circle cx="700" cy="429.4" r="12" fill="url(#gBDO)" stroke="#e0708a" stroke-width="0.8"/>
<text x="700" y="432.8" font-size="9" font-weight="normal" fill="#111" text-anchor="middle" style="" >BDO</text>
<line x1="713" y1="430" x2="776" y2="430" stroke="#e8a2ac" stroke-width="1.2" stroke-dasharray="1.3,2.2"/>
<path d="M790,430 L773.5,424.2 L777,430 L773.5,435.8 Z" fill="#ebb0b6"/>
<circle cx="816.9" cy="430" r="17.5" fill="url(#gBDO)" stroke="#e0708a" stroke-width="0.8"/>
<text x="817" y="434.8" font-size="13" font-weight="bold" fill="#111" text-anchor="middle" style="" >BDO</text>
<text x="739.1" y="318" font-size="12.85" fill="#35b04a">Light On <tspan fill="#4e5a50">Light Off</tspan></text>
<line x1="762" y1="321.3" x2="764.21" y2="329.18" stroke="#35b04a" stroke-width="1.1"/>
<path d="M765.50,333.80 L761.76,328.62 L764.21,329.18 L766.00,327.43 Z" fill="#35b04a"/>
<line x1="788.8" y1="321.3" x2="782.04" y2="330.53" stroke="#4e5a50" stroke-width="1.1"/>
<path d="M779.20,334.40 L780.97,328.26 L782.04,330.53 L784.52,330.86 Z" fill="#4e5a50"/>
<rect x="763.6" y="337.5" width="9.6" height="43" fill="#9fd07e"/>
<rect x="773.2" y="337.5" width="8" height="44.5" fill="#aeb0a6"/>
<path d="M756.3,377 L763.6,380.5 L763.6,338.9 C764,350 765,354.5 766.8,355.7 L772.6,356.6 L774.1,378.6 L781.2,382.4" fill="none" stroke="#c08858" stroke-width="1.2"/>
<path d="M756.3,377 L763.6,380.5" fill="none" stroke="#e8505a" stroke-width="1.3"/>
<path d="M781.2,382.4 L781.2,339.4 C781.6,350 782.8,355.5 784.6,356.6 L789.8,358 L791.3,379.5 L798.9,383.4 L798.9,339.4 C799.3,350 800.4,356.5 802.2,357.6 L807,358.5 L808.9,380.5 L816.5,384.3 L816.5,339.4 C816.9,350 817.8,357 819.4,358 L824.5,359.5 L826,380.5 L832.4,384.3" fill="none" stroke="#e8505a" stroke-width="1.3" stroke-linejoin="round"/>
<path d="M747.8,332.4 L747.8,390 L840,390" fill="none" stroke="#111" stroke-width="1.4"/>
<path d="M747.8,325.9 L744.0,336.9 L747.8,334.4 L751.5999999999999,336.9 Z" fill="#111"/>
<path d="M846,390 L835,386.1 L837.5,390 L835,393.9 Z" fill="#111"/>
<text transform="translate(742.4,389.2) rotate(-90)" font-size="9.65" fill="#111">Photocurrent</text>
<text x="794.7" y="401.2" font-size="9.4" font-weight="normal" fill="#111" text-anchor="middle" style="" >Time</text>
<path d="M748.4,496.6 L748.4,563.7 L833,563.7" fill="none" stroke="#111" stroke-width="1.4"/>
<path d="M748.4,490.1 L744.6,501.1 L748.4,498.6 L752.1999999999999,501.1 Z" fill="#111"/>
<path d="M839,563.7 L828,559.8000000000001 L830.5,563.7 L828,567.6 Z" fill="#111"/>
<path d="M749,563 C751.5,563 752.5,553.5 754.9,553.5 C757.3,553.5 758.3,562.5 761.8,563 L767.2,563 C769.8,562.5 770.5,550.7 773,550.7 C775.5,550.7 776.5,562.5 780.1,563 L783.7,563 C787.5,560 787.3,497 793.1,497 C798.9,497 798.7,560 802.5,563 C805.5,563 806.8,557.3 809.6,557.3 C812.4,557.3 813.5,562.5 815.5,563" fill="none" stroke="#c8958a" stroke-width="1.15"/>
<text transform="translate(742.8,554.6) rotate(-90)" font-size="9.5" fill="#111">Abundance</text>
<text x="792.2" y="574.4" font-size="9.4" font-weight="normal" fill="#111" text-anchor="middle" style="" >Time</text>
<text x="804.9" y="523.6" font-size="13" font-weight="normal" fill="#111" text-anchor="start" style="" >BDO</text>
<text x="787" y="588" font-size="13" font-weight="normal" fill="#111" text-anchor="middle" style="" >Gas Chromatography</text>
<text x="53.8" y="609.8" font-size="14" font-weight="bold" fill="#111" text-anchor="start" style="" >Wastewater</text>
<text x="297" y="609.8" font-size="14" font-weight="bold" fill="#111" text-anchor="start" style="" >Engineering Bacteria</text>
<text x="522" y="609.8" font-size="14" font-weight="bold" fill="#111" text-anchor="start" style="" >Semiconductor-biohybrids</text>
<text x="768.4" y="609.8" font-size="14" font-weight="bold" fill="#111" text-anchor="start" style="" >Chemicals</text>
<line x1="136" y1="606.5" x2="284.5" y2="606.5" stroke="#111" stroke-width="1.5" stroke-dasharray="5.8,5.95"/>
<path d="M292.5,606.5 L282.0,602.5 L285.0,606.5 L282.0,610.5 Z" fill="#111"/>
<line x1="444.3" y1="606.5" x2="508.29999999999995" y2="606.5" stroke="#111" stroke-width="1.5" stroke-dasharray="5.8,5.95"/>
<path d="M516.3,606.5 L505.79999999999995,602.5 L508.79999999999995,606.5 L505.79999999999995,610.5 Z" fill="#111"/>
<line x1="703" y1="606.5" x2="756" y2="606.5" stroke="#111" stroke-width="1.5" stroke-dasharray="5.8,5.95"/>
<path d="M764,606.5 L753.5,602.5 L756.5,606.5 L753.5,610.5 Z" fill="#111"/>
<g>
<path d="M34.5,399.4 L39.8,399.4 L41.2,441.6 L32.7,441.6 Z" fill="#5b88b8"/>
<path d="M34.5,399.4 L39.8,399.4 L40.1,408 L34.2,408 Z" fill="#1f4f78"/>
<rect x="34.2" y="403.5" width="5.9" height="1" fill="#4a7aac"/>
<path d="M46.5,413.5 L46.5,408.4 L71,408.4" fill="none" stroke="#c0564a" stroke-width="0.9" stroke-dasharray="2,0.6"/>
<path d="M42.8,423.6 L42.8,416.4 Q42.8,413.3 46.25,413.3 Q49.7,413.3 49.7,416.4 L49.7,423.6 Z" fill="#a9d9d0"/>
<rect x="42.8" y="416.9" width="6.9" height="1.3" fill="#c0444a"/>
<path d="M72,398 L78.3,398 L79.7,413.8 L70.3,413.8 Z" fill="#a8202c"/>
<rect x="71.7" y="399.7" width="6.899999999999997" height="1.3" fill="#5a88c8"/>
<rect x="70.7" y="409.8" width="8.600000000000005" height="1.4" fill="#5a88c8"/>
<path d="M83.7,398 L90,398 L91.5,413.8 L82.3,413.8 Z" fill="#a8202c"/>
<rect x="83.4" y="399.7" width="6.899999999999997" height="1.3" fill="#5a88c8"/>
<rect x="82.7" y="409.8" width="8.400000000000002" height="1.4" fill="#5a88c8"/>
<rect x="52.4" y="414.1" width="41.3" height="10" fill="#256880"/>
<rect x="40.8" y="423.5" width="52.9" height="18.2" fill="#256880"/>
<rect x="54.6" y="416.15000000000003" width="36.9" height="1.3" fill="#d8cbb0"/>
<rect x="54.6" y="419.25" width="36.9" height="1.3" fill="#d8cbb0"/>
<rect x="54.6" y="422.15000000000003" width="36.9" height="1.3" fill="#d8cbb0"/>
<rect x="41.2" y="425.15000000000003" width="50.3" height="1.3" fill="#d8cbb0"/>
<rect x="41.2" y="428.25" width="50.3" height="1.3" fill="#d8cbb0"/>
<rect x="49.7" y="432.9" width="2.7" height="8.8" fill="#e6d6b4"/>
<rect x="55.1" y="433.2" width="18.8" height="3.2" fill="#a4c6ce" stroke="#d8cbb0" stroke-width="0.6"/>
<rect x="75.6" y="433.2" width="8.1" height="8.4" fill="#8fbcc6" stroke="#d8cbb0" stroke-width="0.6"/>
<rect x="28" y="441.6" width="69.1" height="3.4" fill="#6e4e3a"/>
<path d="M93.8,421.6 L104.2,421.6 M93.8,431.4 L104.2,431.4 M93.8,428.9 L99.6,428.9" fill="none" stroke="#111" stroke-width="1.5"/>
<rect x="104" y="420" width="5.9" height="13.6" rx="0.8" fill="#1c1c1c"/>
<path d="M109.9,423.2 C116,422.6 121,425 125.3,430.2 C128.4,434.2 129.8,438.5 129.9,443.2 C127,444 121.5,444 118.3,443.2 C118.2,439.5 117,436.6 114.8,434.6 C113.2,433 111.8,431.6 109.9,431.2 Z" fill="#b9a11e" stroke="#111" stroke-width="1.5" stroke-linejoin="round"/>
<path d="M120.6,433.2 C122.6,434.6 123.8,436.8 124.1,439.4" fill="none" stroke="#111" stroke-width="1.5" stroke-linecap="round"/>
<circle cx="129.5" cy="421.6" r="2.3" fill="#c8d0dc" stroke="#111" stroke-width="1.5"/>
<circle cx="98.5" cy="437.8" r="1.7" fill="#c8d0dc" stroke="#111" stroke-width="1.4"/>
<circle cx="102.7" cy="417.9" r="1" fill="#111"/>
<circle cx="123" cy="421.6" r="1" fill="#111"/>
<circle cx="130.4" cy="428.9" r="1" fill="#111"/>
<circle cx="119.2" cy="417.6" r="0.9" fill="#111"/>
<path d="M97.00,444.00 q2.12,-1.90 4.25,0 q1.38,1.23 2.75,0" fill="none" stroke="#111" stroke-width="1.9" stroke-linecap="round" stroke-linejoin="round"/>
<path d="M107.20,444.00 q2.12,-1.90 4.25,0 q2.12,1.90 4.25,0 q2.12,-1.90 4.25,0 q2.12,1.90 4.25,0 q2.12,-1.90 4.25,0 q1.78,1.59 3.55,0" fill="none" stroke="#111" stroke-width="1.9" stroke-linecap="round" stroke-linejoin="round"/>
<path d="M94.20,448.90 q2.12,-1.90 4.25,0 q2.12,1.90 4.25,0 q2.12,-1.90 4.25,0 q2.12,1.90 4.25,0 q2.12,-1.90 4.25,0 q2.12,1.90 4.25,0 q2.12,-1.90 4.25,0 q2.12,1.90 4.25,0 q1.90,-1.70 3.80,0" fill="none" stroke="#111" stroke-width="1.9" stroke-linecap="round" stroke-linejoin="round"/>
<path d="M94.20,454.00 q2.12,-1.90 4.25,0 q2.12,1.90 4.25,0 q2.12,-1.90 4.25,0" fill="none" stroke="#111" stroke-width="1.9" stroke-linecap="round" stroke-linejoin="round"/>
<path d="M113.00,454.00 q2.12,-1.90 4.25,0 q2.12,1.90 4.25,0 q2.12,-1.90 4.25,0 q2.12,1.90 4.25,0 q1.00,-0.89 2.00,0" fill="none" stroke="#111" stroke-width="1.9" stroke-linecap="round" stroke-linejoin="round"/>
<circle cx="110" cy="454" r="0.8" fill="#111"/>
<path d="M94.20,459.10 q2.12,-1.90 4.25,0 q2.12,1.90 4.25,0 q2.12,-1.90 4.25,0 q2.12,1.90 4.25,0 q2.12,-1.90 4.25,0 q2.12,1.90 4.25,0" fill="none" stroke="#111" stroke-width="1.9" stroke-linecap="round" stroke-linejoin="round"/>
<path d="M125.40,459.10 q2.12,-1.90 4.25,0 q1.17,1.05 2.35,0" fill="none" stroke="#111" stroke-width="1.9" stroke-linecap="round" stroke-linejoin="round"/>
<circle cx="122.4" cy="459.1" r="0.8" fill="#111"/>
</g>
<text x="66.3" y="477" font-size="14" font-weight="bold" fill="#111" text-anchor="middle" style="" >Industrial</text>
<text x="66.5" y="493.8" font-size="14" font-weight="bold" fill="#111" text-anchor="middle" style="" >Wastewater</text>
</svg>
</body></html>
